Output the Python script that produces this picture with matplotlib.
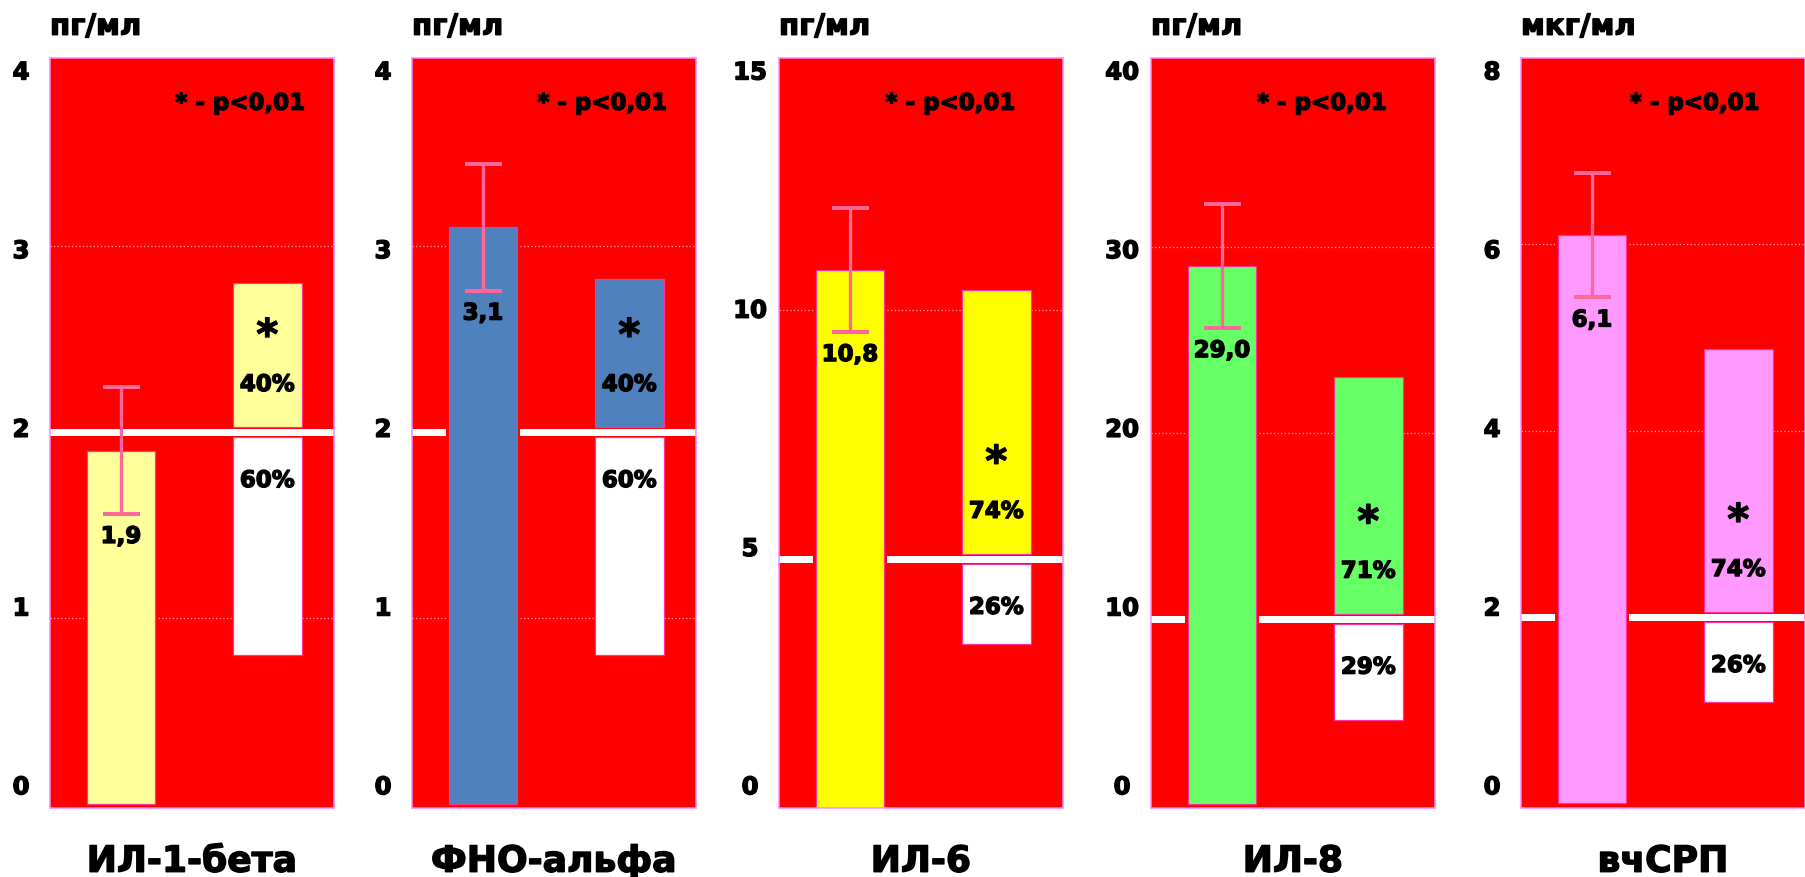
import numpy as np
import matplotlib
matplotlib.use("Agg")
import matplotlib.pyplot as plt
import matplotlib.patheffects as pe

plt.rcParams["font.family"] = ["DejaVu Sans"]
plt.rcParams["font.weight"] = "bold"

# ---- data -------------------------------------------------------------
markers = ["ИЛ-1-бета", "ФНО-альфа", "ИЛ-6", "ИЛ-8", "вчСРП"]
units = ["пг/мл", "пг/мл", "пг/мл", "пг/мл", "мкг/мл"]
axis_max = [4, 4, 15, 40, 8]
axis_step = [1, 1, 5, 10, 2]
axis_floor = [-0.02, -0.02, 0.0, -0.2, -0.05]
axis_ceil = [4.01, 4.01, 15.05, 40.2, 8.0]

mean_values = [1.9, 3.1, 10.8, 29.0, 6.1]
mean_errors = [0.34, 0.34, 1.25, 3.35, 0.67]
thresholds = [2, 2, 5, 10, 2]
above_top = [2.80, 2.82, 10.4, 23.0, 4.88]
below_bottom = [0.80, 0.80, 3.30, 4.55, 1.09]
share_above = [40, 40, 74, 71, 74]
share_below = [60, 60, 26, 29, 26]
significance = "* - p<0,01"

bar_colors = ["#FFFF99", "#4F81BD", "#FFFF00", "#66FF66", "#FF99FF"]

# ---- layout (pixels) --------------------------------------------------
W, H = 1805, 878
PX = 72 / 100  # points per pixel at dpi 100
panel_left = [50, 412, 779, 1151, 1521]
panel_width = 284
panel_bottom = 809
panel_height = 750
note_x = [0.898, 0.898, 0.832, 0.830, 0.840]
# tick labels are spread over a band slightly inside the axis height
label_band = (0.031, 0.984)

heavy = [pe.withStroke(linewidth=1.0, foreground="black")]

fig = plt.figure(figsize=(W / 100, H / 100), dpi=100)
fig.patch.set_facecolor("white")

edge = "#FF3399"
for i, name in enumerate(markers):
    ax = fig.add_axes([panel_left[i] / W, (H - panel_bottom) / H,
                       panel_width / W, panel_height / H])
    ax.set_facecolor("#FF0000")
    ax.set_xlim(-0.485, 1.456)
    lo, hi = axis_floor[i], axis_ceil[i]
    ax.set_ylim(lo, hi)
    for s in ax.spines.values():
        s.set_color("#FF88FF")
        s.set_linewidth(1.5 * PX)

    ticks = np.arange(0, axis_max[i] + axis_step[i] / 2, axis_step[i])
    band_lo = lo + label_band[0] * (hi - lo)
    band_hi = lo + label_band[1] * (hi - lo)
    label_pos = band_lo + ticks / axis_max[i] * (band_hi - band_lo)
    ax.set_yticks(label_pos)
    tick_texts = ax.set_yticklabels([f"{t:g}" for t in ticks], ha="center")
    for t in tick_texts:
        t.set_path_effects(heavy)
    ax.set_xticks([])
    ax.tick_params(axis="y", length=0, pad=29 * PX, labelsize=17.5,
                   labelcolor="black")

    for t in ticks[1:-1]:
        ax.axhline(t, color="#FFB0D8", lw=1.2 * PX, ls=(0, (1, 2)), zorder=1)

    thr = thresholds[i]
    ax.axhline(thr, color="white", lw=7 * PX, zorder=2)

    # mean bar with error bar
    bars = ax.bar(0, mean_values[i], width=0.47, color=bar_colors[i],
                  edgecolor=edge, linewidth=1.2 * PX, zorder=2.2)
    for b in bars:
        b.set_path_effects([pe.Stroke(linewidth=6 * PX, foreground="#FF0000"),
                            pe.Normal()])
    ax.errorbar(0, mean_values[i], yerr=mean_errors[i], fmt="none",
                ecolor="#FF6699", elinewidth=3.3 * PX, capsize=18.5 * PX,
                capthick=4 * PX, zorder=4)
    ax.annotate(f"{mean_values[i]:.1f}".replace(".", ","),
                (0, mean_values[i] - mean_errors[i]), xytext=(0, -20 * PX),
                textcoords="offset points", ha="center",
                va="center_baseline", fontsize=16.5, zorder=5,
                path_effects=heavy)

    # split bar: share above and below the threshold
    gap = 5 / panel_height * (hi - lo)
    ax.bar(1, above_top[i] - (thr + gap), bottom=thr + gap, width=0.47,
           color=bar_colors[i], edgecolor=edge, linewidth=1.2 * PX, zorder=2.2)
    ax.bar(1, (thr - gap) - below_bottom[i], bottom=below_bottom[i], width=0.47,
           color="white", edgecolor=edge, linewidth=1.2 * PX, zorder=2.2)
    ax.annotate("*", (1, thr + gap), xytext=(0, 95 * PX),
                textcoords="offset points", ha="center",
                va="center_baseline", fontsize=30, zorder=5,
                path_effects=heavy)
    ax.annotate(f"{share_above[i]}%", (1, thr + gap), xytext=(0, 45 * PX),
                textcoords="offset points", ha="center",
                va="center_baseline", fontsize=16.5, zorder=5,
                path_effects=heavy)
    ax.annotate(f"{share_below[i]}%", (1, thr - gap), xytext=(0, -41 * PX),
                textcoords="offset points", ha="center",
                va="center_baseline", fontsize=16.5, zorder=5,
                path_effects=heavy)

    ax.text(note_x[i], 0.943, significance, transform=ax.transAxes,
            ha="right", va="center_baseline", fontsize=16.5, zorder=5,
            path_effects=heavy)
    ax.text(0.0, 1.031, units[i], transform=ax.transAxes, ha="left",
            va="baseline", fontsize=21, path_effects=heavy)
    ax.text(0.5, -0.085, name, transform=ax.transAxes, ha="center",
            va="baseline", fontsize=26, path_effects=heavy)

fig.savefig("out.png", dpi=100, facecolor="white")
